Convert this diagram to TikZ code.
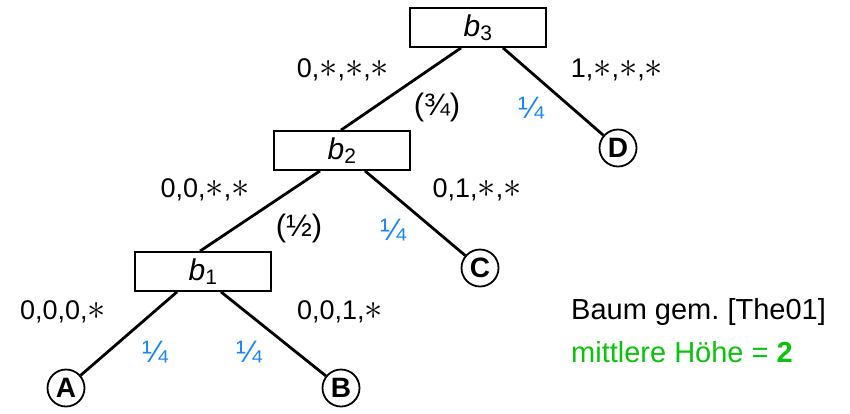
\RequirePackage{fix-cm}
\documentclass[tikz,border=0pt]{standalone}
\usepackage{fontspec}
\setmainfont{Liberation Sans}
\definecolor{probblue}{RGB}{25,135,250}
\definecolor{heightgreen}{RGB}{10,195,10}
\newcommand{\bigstr}{\scalebox{1.35}{$\ast$}}
\begin{document}
\begin{tikzpicture}[x=1pt,y=-1pt,
  box/.style={draw,line width=1.8pt,minimum width=136pt,minimum height=39pt,inner sep=0pt,font=\fontsize{30}{32}\selectfont},
  leaf/.style={draw,circle,line width=1.8pt,minimum size=37pt,inner sep=0pt,font=\fontsize{28}{30}\selectfont\bfseries},
  edge/.style={line width=2.8pt},
  lab/.style={font=\fontsize{27}{30}\selectfont,inner sep=0pt},
  prob/.style={font=\fontsize{31}{34}\selectfont,text=probblue,inner sep=0pt},
  note/.style={font=\fontsize{29}{32}\selectfont,anchor=west,inner sep=0pt}]
\useasboundingbox (0,0) rectangle (850,413);
% inner nodes
\node[box] (b3) at (478,27.5) {\itshape b\textsubscript{\upshape 3}};
\node[box] (b2) at (342,150.5) {\itshape b\textsubscript{\upshape 2}};
\node[box] (b1) at (203,271.5) {\itshape b\textsubscript{\upshape 1}};
% leaves
\node[leaf] (D) at (618,148) {D};
\node[leaf] (C) at (480,268) {C};
\node[leaf] (A) at (66,388) {A};
\node[leaf] (B) at (341,388) {B};
% edges
\draw[edge] ([xshift=-17pt]b3.south) -- ([xshift=-1pt]b2.north);
\draw[edge] ([xshift=25pt]b3.south) -- (D);
\draw[edge] ([xshift=-22pt]b2.south) -- ([xshift=-3pt]b1.north);
\draw[edge] ([xshift=23pt]b2.south) -- (C);
\draw[edge] ([xshift=-26pt]b1.south) -- (A);
\draw[edge] ([xshift=18pt]b1.south) -- (B);
% edge labels
\node[lab] (l3a) at (343,70) {0,\bigstr,\bigstr,\bigstr};
\node[lab] (l3b) at (617,70) {1,\bigstr,\bigstr,\bigstr};
\node[lab] (l2a) at (205,190) {0,0,\bigstr,\bigstr};
\node[lab] (l2b) at (477,190) {0,1,\bigstr,\bigstr};
\node[lab] (l1a) at (63,312) {0,0,0,\bigstr};
\node[lab] (l1b) at (340,312) {0,0,1,\bigstr};
% probabilities
\node[prob,text=black] (p3a) at (437,107) {(¾)};
\node[prob] (p3b) at (531,108) {¼};
\node[prob,text=black] (p2a) at (299,228) {(½)};
\node[prob] (p2b) at (393,230) {¼};
\node[prob] (p1a) at (155,352) {¼};
\node[prob] (p1b) at (249,352) {¼};
% note
\node[note] (n1) at (571,312) {Baum gem.\ [The01]};
\node[note,text=heightgreen] (n2) at (571,352) {mittlere Höhe = \textbf{2}};
\end{tikzpicture}
\end{document}
